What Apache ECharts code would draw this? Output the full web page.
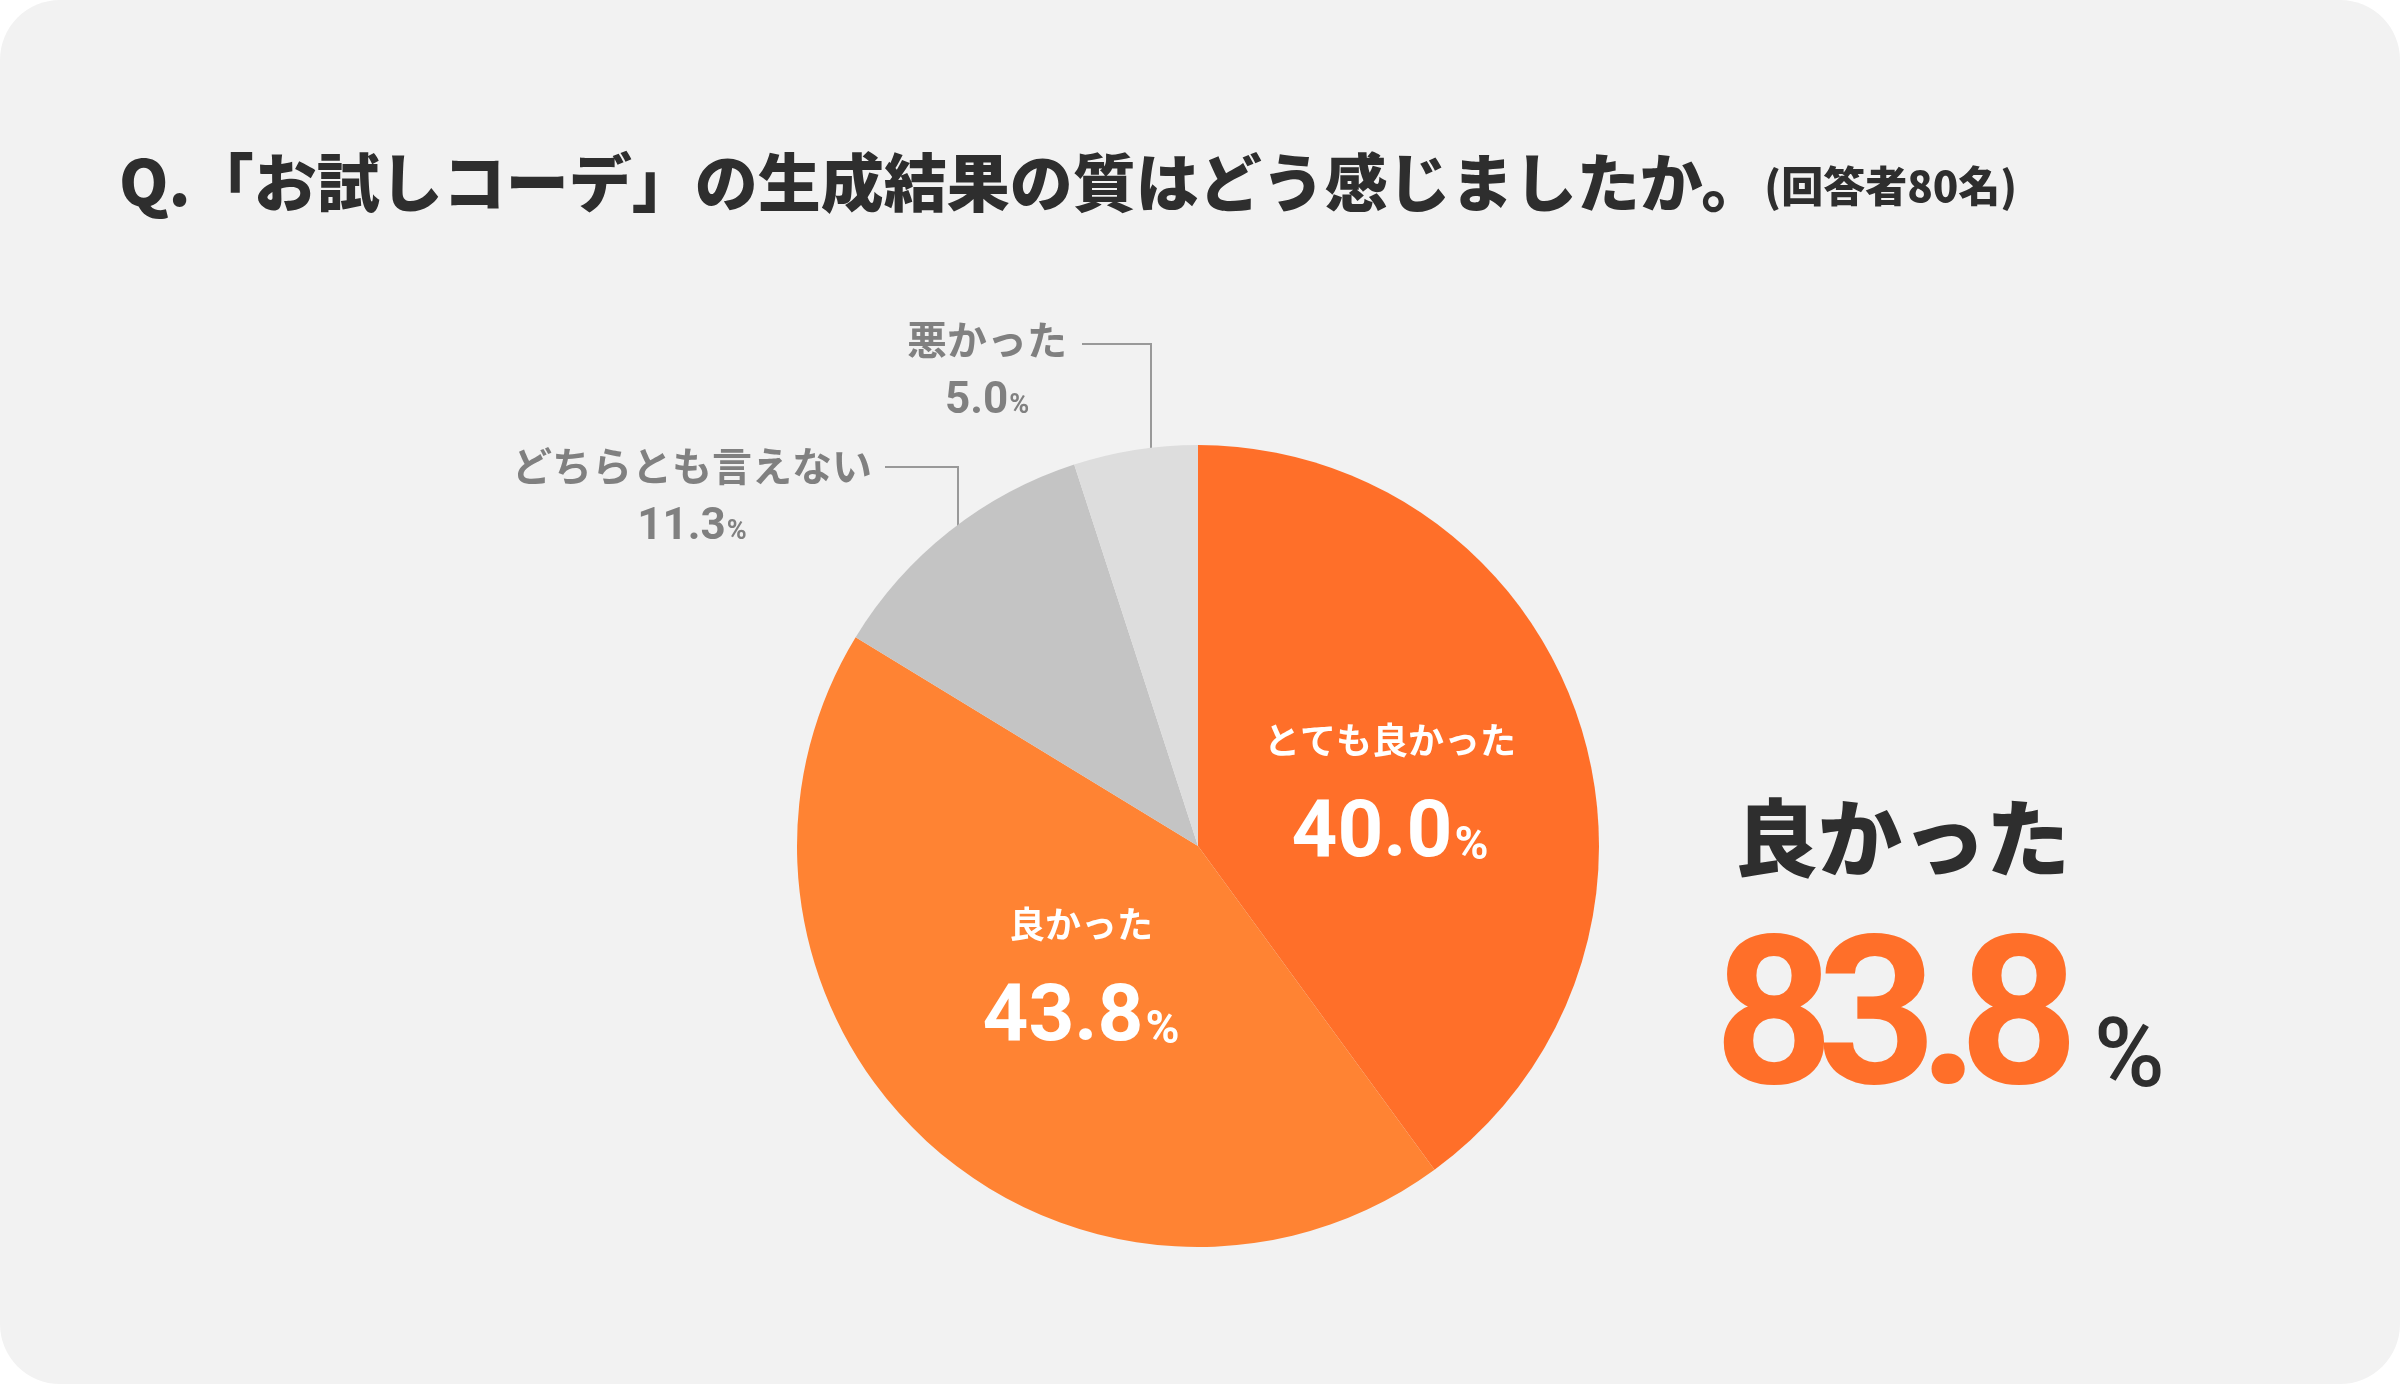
<!DOCTYPE html>
<html><head><meta charset="utf-8">
<script src="https://cdn.jsdelivr.net/npm/echarts@6/dist/echarts.min.js"></script>
<style>html,body{margin:0;padding:0;background:#ffffff}#c{width:2400px;height:1384px}</style>
</head><body><div id="c"></div>
<script>
const categories = ['とても良かった', '良かった', 'どちらとも言えない', '悪かった'];
const values = [40.0, 43.8, 11.3, 5.0];
const valueLabels = ['40.0', '43.8', '11.3', '5.0'];
const titleText = 'Q.「お試しコーデ」の生成結果の質はどう感じましたか。';
const subText = '(回答者80名)';
const summaryLabel = '良かった';
const summaryValue = '83.8';

const JP = '"Noto Sans CJK JP", sans-serif';
const NUM = 'Roboto, "Noto Sans", sans-serif';

const chart = echarts.init(document.getElementById('c'), null, {renderer: 'canvas'});

const insideRich = {
  a: {fontFamily: JP, fontSize: 36, fontWeight: 'bold', color: '#ffffff', lineHeight: 72},
  b: {fontFamily: NUM, fontSize: 80, fontWeight: 'bold', color: '#ffffff', lineHeight: 100, verticalAlign: 'bottom'},
  c: {fontFamily: NUM, fontSize: 46, fontWeight: 'bold', color: '#ffffff', lineHeight: 100, verticalAlign: 'bottom', padding: [0, 0, 6, 2]}
};
const outsideRich = {
  a: {fontFamily: JP, fontSize: 40, fontWeight: 'bold', color: '#808080', lineHeight: 56},
  b: {fontFamily: NUM, fontSize: 44, fontWeight: 'bold', color: '#808080', lineHeight: 56, verticalAlign: 'bottom'},
  c: {fontFamily: NUM, fontSize: 27, fontWeight: 'bold', color: '#808080', lineHeight: 56, verticalAlign: 'bottom', padding: [0, 0, 4, 1]}
};

const seriesData = categories.map(function (name, i) {
  const inside = i < 2;
  return {
    name: name,
    value: values[i],
    label: {
      show: true,
      position: inside ? 'inside' : 'outside',
      formatter: '{a|' + name + '}\n{b|' + valueLabels[i] + '}{c|%}',
      rich: inside ? insideRich : outsideRich,
      align: 'center'
    },
    labelLine: {show: !inside, lineStyle: {color: '#999999', width: 2}}
  };
});

const labelPos = [
  {x: 1390, y: 790},
  {x: 1081, y: 974},
  {x: 692, y: 494, line: [[958, 569], [958, 467], [885, 467]]},
  {x: 987, y: 368, line: [[1151, 569], [1151, 344], [1082, 344]]}
];

// big summary number: glyph centres
const summaryX = [1774, 1877, 1949, 2019];
const summaryGraphics = summaryValue.split('').map(function (ch, i) {
  return {type: 'text', x: summaryX[i], y: 1031, style: {text: ch, font: 'bold 208px ' + NUM, fill: '#FF6F29', textAlign: 'center', textVerticalAlign: 'middle'}};
});

chart.setOption({
  animation: false,
  color: ['#FF6F29', '#FF8333', '#C4C4C4', '#DDDDDD'],
  title: {
    text: '{m|' + titleText + '}{s|' + subText + '}',
    left: 114,
    top: 127,
    textStyle: {
      rich: {
        m: {fontFamily: JP, fontSize: 63, fontWeight: 900, color: '#2e2e2e', lineHeight: 82, verticalAlign: 'bottom'},
        s: {fontFamily: JP, fontSize: 42, fontWeight: 900, color: '#2e2e2e', lineHeight: 82, verticalAlign: 'bottom', padding: [0, 0, 7, 0]}
      }
    }
  },
  graphic: [
    {type: 'rect', z: -10, shape: {x: 0, y: 0, width: 2400, height: 1384, r: 60}, style: {fill: '#F2F2F2'}, silent: true},
    {type: 'text', x: 1734, y: 838, style: {text: summaryLabel, font: '900 84px ' + JP, fill: '#2e2e2e', textAlign: 'left', textVerticalAlign: 'middle'}},
    {type: 'text', x: 2094, y: 1062, style: {text: '%', font: '500 96px ' + NUM, fill: '#2e2e2e', textAlign: 'left', textVerticalAlign: 'middle'}}
  ].concat(summaryGraphics),
  series: [{
    type: 'pie',
    center: [1198, 846],
    radius: [0, 401],
    startAngle: 90,
    clockwise: true,
    avoidLabelOverlap: false,
    emphasis: {disabled: true},
    itemStyle: {borderWidth: 0},
    data: seriesData,
    labelLayout: function (p) {
      const pos = labelPos[p.dataIndex];
      const o = {x: pos.x, y: pos.y, align: 'center', verticalAlign: 'middle'};
      if (pos.line) o.labelLinePoints = pos.line;
      return o;
    }
  }]
});
</script></body></html>
